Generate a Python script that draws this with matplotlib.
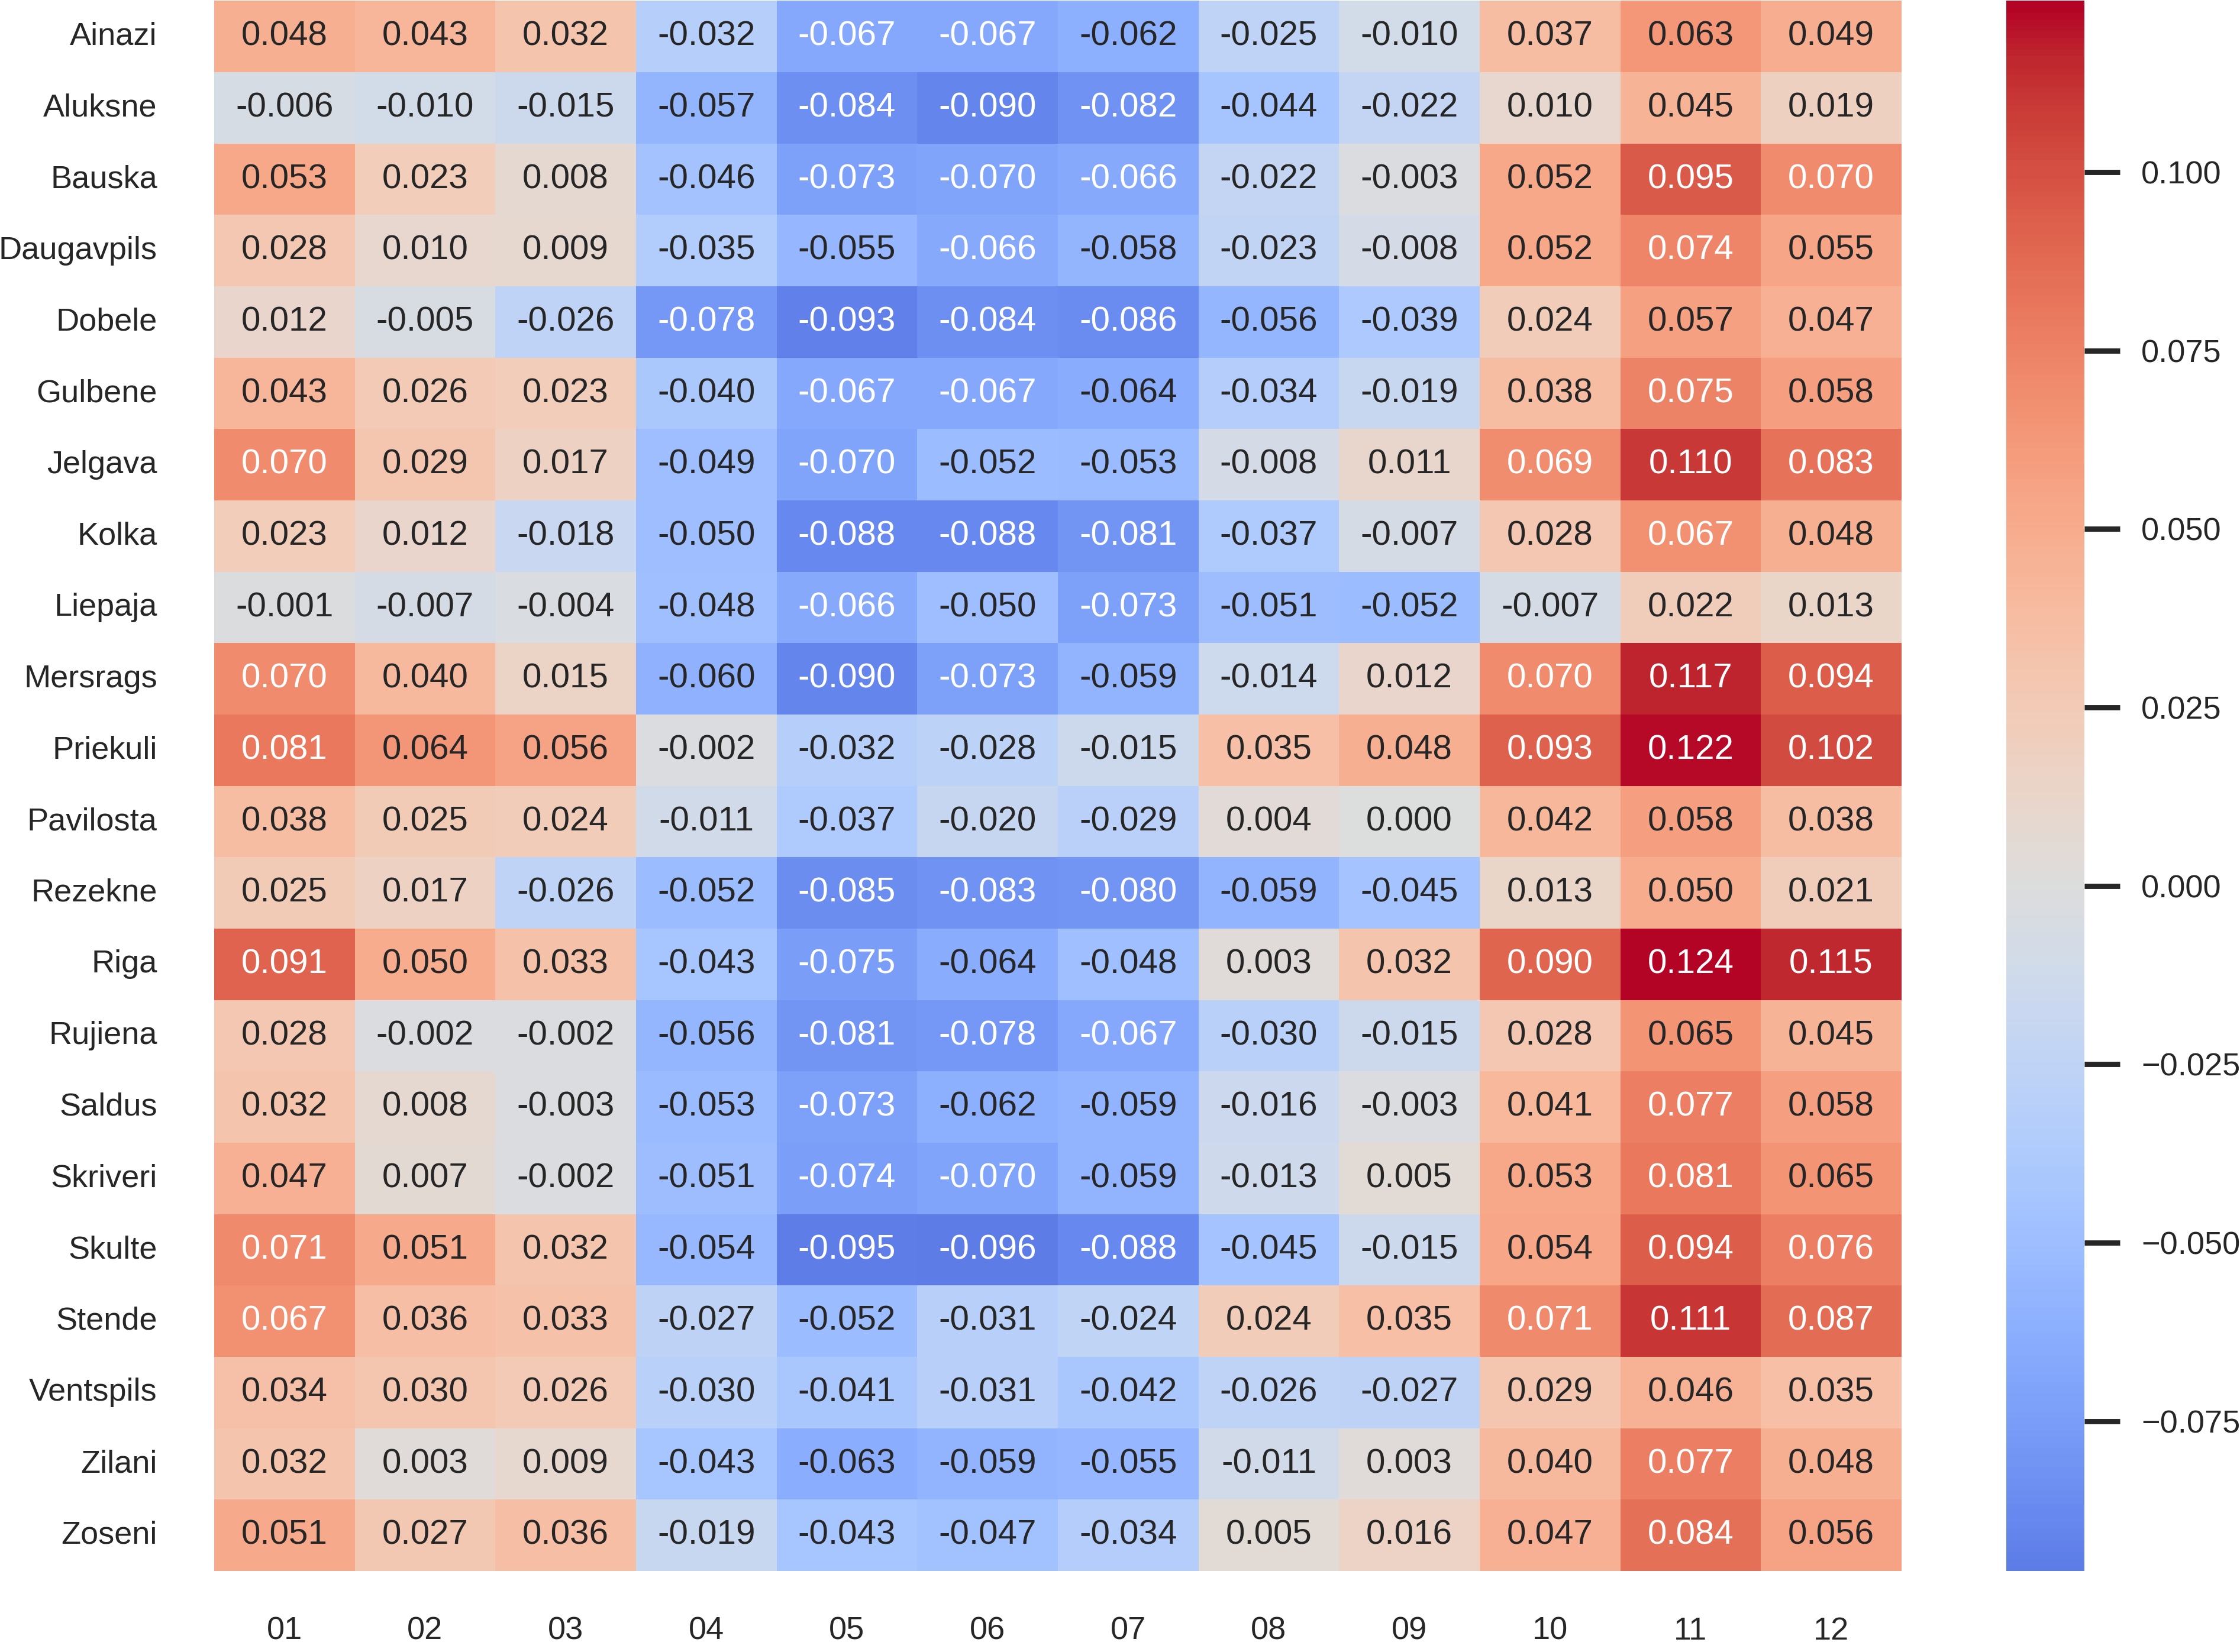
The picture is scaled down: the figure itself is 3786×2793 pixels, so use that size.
import numpy as np
import pandas as pd
import seaborn as sns
import matplotlib
matplotlib.use("Agg")
import matplotlib.pyplot as plt

# station names and months
stations = ["Ainazi", "Aluksne", "Bauska", "Daugavpils", "Dobele", "Gulbene", "Jelgava",
            "Kolka", "Liepaja", "Mersrags", "Priekuli", "Pavilosta", "Rezekne", "Riga",
            "Rujiena", "Saldus", "Skriveri", "Skulte", "Stende", "Ventspils", "Zilani", "Zoseni"]
months = ["01", "02", "03", "04", "05", "06", "07", "08", "09", "10", "11", "12"]

# monthly values per station
ainazi = [0.048, 0.043, 0.032, -0.032, -0.067, -0.067, -0.062, -0.025, -0.010, 0.037, 0.063, 0.049]
aluksne = [-0.006, -0.010, -0.015, -0.057, -0.084, -0.090, -0.082, -0.044, -0.022, 0.010, 0.045, 0.019]
bauska = [0.053, 0.023, 0.008, -0.046, -0.073, -0.070, -0.066, -0.022, -0.003, 0.052, 0.095, 0.070]
daugavpils = [0.028, 0.010, 0.009, -0.035, -0.055, -0.066, -0.058, -0.023, -0.008, 0.052, 0.074, 0.055]
dobele = [0.012, -0.005, -0.026, -0.078, -0.093, -0.084, -0.086, -0.056, -0.039, 0.024, 0.057, 0.047]
gulbene = [0.043, 0.026, 0.023, -0.040, -0.067, -0.067, -0.064, -0.034, -0.019, 0.038, 0.075, 0.058]
jelgava = [0.070, 0.029, 0.017, -0.049, -0.070, -0.052, -0.053, -0.008, 0.011, 0.069, 0.110, 0.083]
kolka = [0.023, 0.012, -0.018, -0.050, -0.088, -0.088, -0.081, -0.037, -0.007, 0.028, 0.067, 0.048]
liepaja = [-0.001, -0.007, -0.004, -0.048, -0.066, -0.050, -0.073, -0.051, -0.052, -0.007, 0.022, 0.013]
mersrags = [0.070, 0.040, 0.015, -0.060, -0.090, -0.073, -0.059, -0.014, 0.012, 0.070, 0.117, 0.094]
priekuli = [0.081, 0.064, 0.056, -0.002, -0.032, -0.028, -0.015, 0.035, 0.048, 0.093, 0.122, 0.102]
pavilosta = [0.038, 0.025, 0.024, -0.011, -0.037, -0.020, -0.029, 0.004, 0.000, 0.042, 0.058, 0.038]
rezekne = [0.025, 0.017, -0.026, -0.052, -0.085, -0.083, -0.080, -0.059, -0.045, 0.013, 0.050, 0.021]
riga = [0.091, 0.050, 0.033, -0.043, -0.075, -0.064, -0.048, 0.003, 0.032, 0.090, 0.124, 0.115]
rujiena = [0.028, -0.002, -0.002, -0.056, -0.081, -0.078, -0.067, -0.030, -0.015, 0.028, 0.065, 0.045]
saldus = [0.032, 0.008, -0.003, -0.053, -0.073, -0.062, -0.059, -0.016, -0.003, 0.041, 0.077, 0.058]
skriveri = [0.047, 0.007, -0.002, -0.051, -0.074, -0.070, -0.059, -0.013, 0.005, 0.053, 0.081, 0.065]
skulte = [0.071, 0.051, 0.032, -0.054, -0.095, -0.096, -0.088, -0.045, -0.015, 0.054, 0.094, 0.076]
stende = [0.067, 0.036, 0.033, -0.027, -0.052, -0.031, -0.024, 0.024, 0.035, 0.071, 0.111, 0.087]
ventspils = [0.034, 0.030, 0.026, -0.030, -0.041, -0.031, -0.042, -0.026, -0.027, 0.029, 0.046, 0.035]
zilani = [0.032, 0.003, 0.009, -0.043, -0.063, -0.059, -0.055, -0.011, 0.003, 0.040, 0.077, 0.048]
zoseni = [0.051, 0.027, 0.036, -0.019, -0.043, -0.047, -0.034, 0.005, 0.016, 0.047, 0.084, 0.056]

rows = [ainazi, aluksne, bauska, daugavpils, dobele, gulbene, jelgava, kolka, liepaja,
        mersrags, priekuli, pavilosta, rezekne, riga, rujiena, saldus, skriveri, skulte,
        stende, ventspils, zilani, zoseni]
df = pd.DataFrame(rows, index=stations, columns=months)

sns.set_theme(style="white")
plt.rcParams["font.family"] = ["Liberation Sans", "DejaVu Sans"]
fs_annot = 21
fs_ticks = 19.5

fig = plt.figure(figsize=(18.93, 13.965), dpi=200)
ax = fig.add_axes([0.0956, 0.049, 0.7533, 0.9505])
cax = fig.add_axes([0.8957, 0.049, 0.0349, 0.9505])

# centred at zero, so the blue end is lighter than the red one
sns.heatmap(df, annot=True, fmt=".3f", cmap="coolwarm", center=0, ax=ax, cbar_ax=cax,
            annot_kws={"size": fs_annot})

ax.set_xlabel("")
ax.set_ylabel("")
ax.tick_params(axis="both", length=21.6, width=3.2, color="white",
               labelsize=fs_ticks, labelcolor="#262626", bottom=True, left=True)
ax.tick_params(axis="y", pad=13)
ax.tick_params(axis="x", pad=6)
ax.set_yticklabels(stations, rotation=0)
ax.set_xticklabels(months, rotation=0)

cax.tick_params(length=21.6, width=3.2, pad=13, color="#262626", labelsize=fs_ticks,
                labelcolor="#262626", right=True)
cax.set_frame_on(False)

plt.savefig("out.png", dpi=200)
